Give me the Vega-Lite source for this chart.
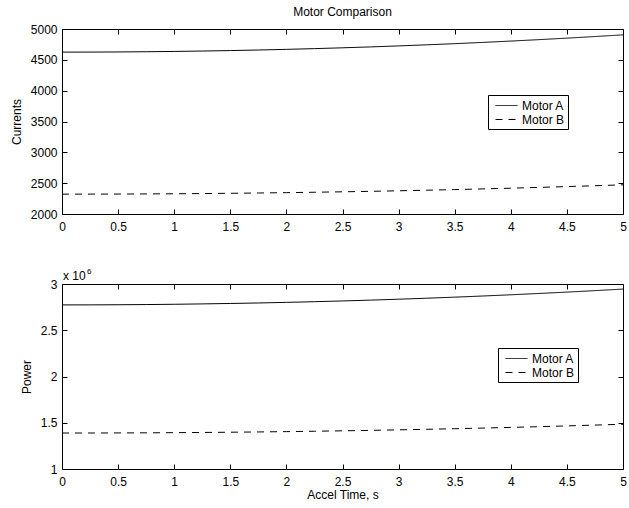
{
  "$schema": "https://vega.github.io/schema/vega-lite/v6.json",
  "padding": {"left": 9, "top": 5, "right": 5, "bottom": 5},
  "bounds": "flush",
  "spacing": 70,
  "datasets": {
    "current": [
      {"t": 0, "motor": "Motor A", "current": 4625},
      {"t": 0.25, "motor": "Motor A", "current": 4625.7},
      {"t": 0.5, "motor": "Motor A", "current": 4627.8},
      {"t": 0.75, "motor": "Motor A", "current": 4631.3},
      {"t": 1, "motor": "Motor A", "current": 4636.2},
      {"t": 1.25, "motor": "Motor A", "current": 4642.5},
      {"t": 1.5, "motor": "Motor A", "current": 4650.2},
      {"t": 1.75, "motor": "Motor A", "current": 4659.3},
      {"t": 2, "motor": "Motor A", "current": 4669.8},
      {"t": 2.25, "motor": "Motor A", "current": 4681.7},
      {"t": 2.5, "motor": "Motor A", "current": 4695},
      {"t": 2.75, "motor": "Motor A", "current": 4709.7},
      {"t": 3, "motor": "Motor A", "current": 4725.8},
      {"t": 3.25, "motor": "Motor A", "current": 4743.3},
      {"t": 3.5, "motor": "Motor A", "current": 4762.2},
      {"t": 3.75, "motor": "Motor A", "current": 4782.5},
      {"t": 4, "motor": "Motor A", "current": 4804.2},
      {"t": 4.25, "motor": "Motor A", "current": 4827.3},
      {"t": 4.5, "motor": "Motor A", "current": 4851.8},
      {"t": 4.75, "motor": "Motor A", "current": 4877.7},
      {"t": 5, "motor": "Motor A", "current": 4905},
      {"t": 0, "motor": "Motor B", "current": 2322},
      {"t": 0.25, "motor": "Motor B", "current": 2322.4},
      {"t": 0.5, "motor": "Motor B", "current": 2323.5},
      {"t": 0.75, "motor": "Motor B", "current": 2325.4},
      {"t": 1, "motor": "Motor B", "current": 2328},
      {"t": 1.25, "motor": "Motor B", "current": 2331.4},
      {"t": 1.5, "motor": "Motor B", "current": 2335.6},
      {"t": 1.75, "motor": "Motor B", "current": 2340.5},
      {"t": 2, "motor": "Motor B", "current": 2346.2},
      {"t": 2.25, "motor": "Motor B", "current": 2352.6},
      {"t": 2.5, "motor": "Motor B", "current": 2359.8},
      {"t": 2.75, "motor": "Motor B", "current": 2367.7},
      {"t": 3, "motor": "Motor B", "current": 2376.4},
      {"t": 3.25, "motor": "Motor B", "current": 2385.8},
      {"t": 3.5, "motor": "Motor B", "current": 2396},
      {"t": 3.75, "motor": "Motor B", "current": 2406.9},
      {"t": 4, "motor": "Motor B", "current": 2418.6},
      {"t": 4.25, "motor": "Motor B", "current": 2431.1},
      {"t": 4.5, "motor": "Motor B", "current": 2444.3},
      {"t": 4.75, "motor": "Motor B", "current": 2458.3},
      {"t": 5, "motor": "Motor B", "current": 2473}
    ],
    "power": [
      {"t": 0, "motor": "Motor A", "power": 2774000},
      {"t": 0.25, "motor": "Motor A", "power": 2774400},
      {"t": 0.5, "motor": "Motor A", "power": 2775700},
      {"t": 0.75, "motor": "Motor A", "power": 2777800},
      {"t": 1, "motor": "Motor A", "power": 2780800},
      {"t": 1.25, "motor": "Motor A", "power": 2784700},
      {"t": 1.5, "motor": "Motor A", "power": 2789400},
      {"t": 1.75, "motor": "Motor A", "power": 2794900},
      {"t": 2, "motor": "Motor A", "power": 2801400},
      {"t": 2.25, "motor": "Motor A", "power": 2808600},
      {"t": 2.5, "motor": "Motor A", "power": 2816800},
      {"t": 2.75, "motor": "Motor A", "power": 2825700},
      {"t": 3, "motor": "Motor A", "power": 2835600},
      {"t": 3.25, "motor": "Motor A", "power": 2846200},
      {"t": 3.5, "motor": "Motor A", "power": 2857800},
      {"t": 3.75, "motor": "Motor A", "power": 2870200},
      {"t": 4, "motor": "Motor A", "power": 2883400},
      {"t": 4.25, "motor": "Motor A", "power": 2897500},
      {"t": 4.5, "motor": "Motor A", "power": 2912500},
      {"t": 4.75, "motor": "Motor A", "power": 2928300},
      {"t": 5, "motor": "Motor A", "power": 2945000},
      {"t": 0, "motor": "Motor B", "power": 1389000},
      {"t": 0.25, "motor": "Motor B", "power": 1389200},
      {"t": 0.5, "motor": "Motor B", "power": 1390000},
      {"t": 0.75, "motor": "Motor B", "power": 1391100},
      {"t": 1, "motor": "Motor B", "power": 1392800},
      {"t": 1.25, "motor": "Motor B", "power": 1394900},
      {"t": 1.5, "motor": "Motor B", "power": 1397600},
      {"t": 1.75, "motor": "Motor B", "power": 1400600},
      {"t": 2, "motor": "Motor B", "power": 1404200},
      {"t": 2.25, "motor": "Motor B", "power": 1408200},
      {"t": 2.5, "motor": "Motor B", "power": 1412800},
      {"t": 2.75, "motor": "Motor B", "power": 1417700},
      {"t": 3, "motor": "Motor B", "power": 1423200},
      {"t": 3.25, "motor": "Motor B", "power": 1429100},
      {"t": 3.5, "motor": "Motor B", "power": 1435600},
      {"t": 3.75, "motor": "Motor B", "power": 1442400},
      {"t": 4, "motor": "Motor B", "power": 1449800},
      {"t": 4.25, "motor": "Motor B", "power": 1457600},
      {"t": 4.5, "motor": "Motor B", "power": 1466000},
      {"t": 4.75, "motor": "Motor B", "power": 1474700},
      {"t": 5, "motor": "Motor B", "power": 1484000}
    ]
  },
  "vconcat": [
    {
      "width": 561,
      "height": 185,
      "title": {"text": "Motor Comparison", "frame": "group", "fontSize": 12, "fontWeight": "normal", "offset": 4},
      "data": {"name": "current"},
      "layer": [
        {
          "mark": {"type": "line", "color": "black", "strokeWidth": 1},
          "encoding": {
            "x": {"field": "t", "type": "quantitative", "scale": {"domain": [0, 5], "nice": false, "zero": false},
                  "axis": {"orient": "bottom", "values": [0, 0.5, 1, 1.5, 2, 2.5, 3, 3.5, 4, 4.5, 5], "format": "~g", "title": null, "labelPadding": 12}},
            "y": {"field": "current", "type": "quantitative", "scale": {"domain": [2000, 5000], "nice": false, "zero": false},
                  "axis": {"orient": "left", "values": [2000, 2500, 3000, 3500, 4000, 4500, 5000], "format": "d", "title": "Currents", "labelPadding": 10}},
            "strokeDash": {"field": "motor", "type": "nominal",
                  "scale": {"domain": ["Motor A", "Motor B"], "range": [[1, 0], [7, 6]]},
                  "legend": {"orient": "none", "legendX": 426, "legendY": 66, "title": null, "strokeColor": "black", "fillColor": "white", "padding": 3, "labelFontSize": 12, "symbolSize": 196, "symbolType": "M-1.57,0H1.57", "symbolOffset": 8, "symbolStrokeWidth": 1, "symbolStrokeColor": "black", "rowPadding": 0, "labelOffset": 8, "labelColor": "black"}}
          }
        },
        {
          "mark": {"type": "point", "opacity": 0},
          "encoding": {
            "x": {"field": "t", "type": "quantitative", "axis": {"orient": "top", "values": [0, 0.5, 1, 1.5, 2, 2.5, 3, 3.5, 4, 4.5, 5], "labels": false, "domain": false, "title": null}},
            "y": {"field": "current", "type": "quantitative", "axis": {"orient": "right", "values": [2000, 2500, 3000, 3500, 4000, 4500, 5000], "labels": false, "domain": false, "title": null}}
          }
        }
      ],
      "resolve": {"axis": {"x": "independent", "y": "independent"}}
    },
    {
      "width": 561,
      "height": 185,
      "data": {"name": "power"},
      "layer": [
        {
          "mark": {"type": "line", "color": "black", "strokeWidth": 1},
          "encoding": {
            "x": {"field": "t", "type": "quantitative", "scale": {"domain": [0, 5], "nice": false, "zero": false},
                  "axis": {"orient": "bottom", "values": [0, 0.5, 1, 1.5, 2, 2.5, 3, 3.5, 4, 4.5, 5], "format": "~g", "title": "Accel Time, s", "labelPadding": 12, "titlePadding": 2}},
            "y": {"field": "power", "type": "quantitative", "scale": {"domain": [1000000, 3000000], "nice": false, "zero": false},
                  "axis": {"orient": "left", "values": [1000000, 1500000, 2000000, 2500000, 3000000], "labelExpr": "format(datum.value / 1000000, '~g')", "title": "Power", "labelPadding": 10}},
            "strokeDash": {"field": "motor", "type": "nominal",
                  "scale": {"domain": ["Motor A", "Motor B"], "range": [[1, 0], [7, 6]]},
                  "legend": {"orient": "none", "legendX": 436, "legendY": 64, "title": null, "strokeColor": "black", "fillColor": "white", "padding": 3, "labelFontSize": 12, "symbolSize": 196, "symbolType": "M-1.57,0H1.57", "symbolOffset": 8, "symbolStrokeWidth": 1, "symbolStrokeColor": "black", "rowPadding": 0, "labelOffset": 8, "labelColor": "black"}}
          }
        },
        {
          "mark": {"type": "point", "opacity": 0},
          "encoding": {
            "x": {"field": "t", "type": "quantitative", "axis": {"orient": "top", "values": [0, 0.5, 1, 1.5, 2, 2.5, 3, 3.5, 4, 4.5, 5], "labels": false, "domain": false, "title": null}},
            "y": {"field": "power", "type": "quantitative", "axis": {"orient": "right", "values": [1000000, 1500000, 2000000, 2500000, 3000000], "labels": false, "domain": false, "title": null}}
          }
        },
        {
          "data": {"values": [{"label": "x 10", "t": 0, "power": 3000000}]},
          "mark": {"type": "text", "align": "left", "baseline": "alphabetic", "dx": 1, "dy": -4, "fontSize": 12, "color": "black"},
          "encoding": {
            "x": {"field": "t", "type": "quantitative", "axis": null},
            "y": {"field": "power", "type": "quantitative", "axis": null},
            "text": {"field": "label"}
          }
        },
        {
          "data": {"values": [{"label": "6", "t": 0, "power": 3000000}]},
          "mark": {"type": "text", "align": "left", "baseline": "alphabetic", "dx": 25, "dy": -10, "fontSize": 8, "color": "black"},
          "encoding": {
            "x": {"field": "t", "type": "quantitative", "axis": null},
            "y": {"field": "power", "type": "quantitative", "axis": null},
            "text": {"field": "label"}
          }
        }
      ],
      "resolve": {"axis": {"x": "independent", "y": "independent"}}
    }
  ],
  "resolve": {"scale": {"strokeDash": "independent"}, "legend": {"strokeDash": "independent"}},
  "config": {
    "font": "Liberation Sans",
    "background": "white",
    "view": {"stroke": "black", "strokeWidth": 1},
    "axis": {
      "grid": false,
      "domainColor": "black",
      "tickColor": "black",
      "tickSize": -5,
      "labelColor": "black",
      "titleColor": "black",
      "labelFontSize": 12,
      "titleFontSize": 12,
      "titleFontWeight": "normal",
      "labelFlush": false,
      "labelOverlap": false,
      "titlePadding": 7
    }
  }
}
